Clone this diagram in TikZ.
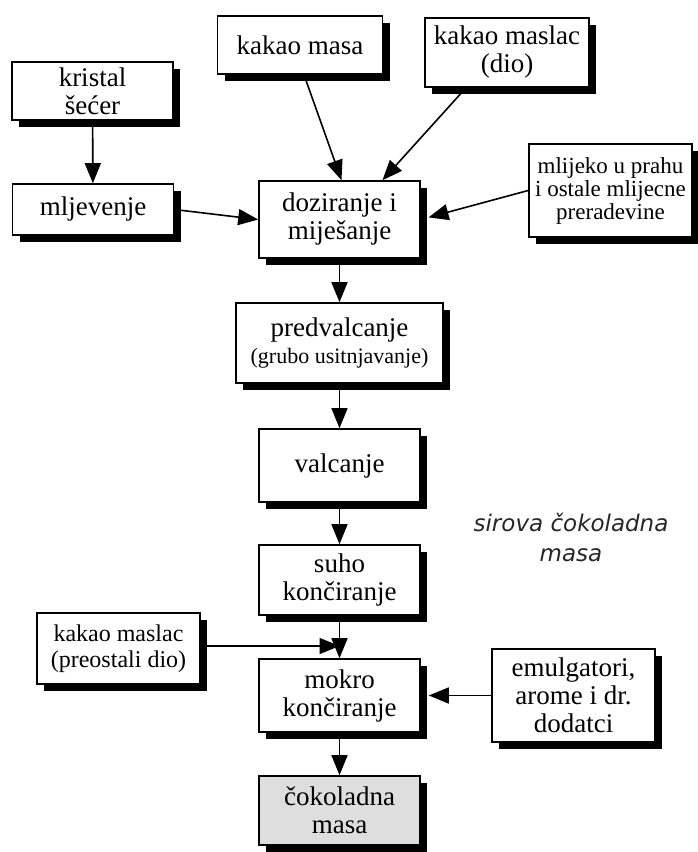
\documentclass[tikz,border=0pt]{standalone}
\usepackage{fontspec}
\setmainfont{Liberation Serif}
\setsansfont{DejaVu Sans}
\usepackage{xcolor}
\usepackage{tikz}
\usetikzlibrary{arrows.meta,shadows}
\tikzset{
  stepbox/.style = {shape=rectangle, draw, line width=1.6pt,
                    fill=white, align=center, inner sep=1pt,
                    minimum width=161pt,
                    font=\fontsize{27}{28}\selectfont,
                    drop shadow={shadow xshift=7pt, shadow yshift=-7pt,
                                 fill=black, opacity=1}},
  smallbox/.style = {stepbox, font=\fontsize{23}{23}\selectfont},
  endbox/.style   = {stepbox, fill=black!13},
  flow/.style     = {draw, line width=1.6pt,
                     -{Triangle[length=20pt, width=16pt]}},
  note/.style     = {align=center, text=black!85,
                     font=\fontsize{23}{30}\selectfont\sffamily\itshape}
}

\begin{document}
\begin{tikzpicture}[x=1pt, y=-1pt]
  \useasboundingbox (0,0) rectangle (697,852);
  \node [stepbox, minimum height=58pt] (kristal) at (92.5,91) {kristal\\šećer};
  \node [stepbox, minimum width=165pt, minimum height=58pt] (kakaomasa) at (300,45) {kakao masa};
  \node [stepbox, minimum width=164pt, minimum height=69pt] (kakaodio) at (507,52.5) {kakao maslac\\(dio)};
  \node [stepbox, minimum height=51pt] (mljevenje) at (93,209.5) {mljevenje};
  \node [stepbox, minimum height=77pt] (doziranje) at (339.5,219.5) {doziranje i\\miješanje};
  \node [smallbox, minimum width=163pt, minimum height=93pt] (mlijeko) at (610.5,190.5)
    {mlijeko u prahu\\i ostale mlijecne\\preradevine};
  \node [stepbox, minimum width=207pt, minimum height=80pt] (predvalcanje) at (339.5,343)
    {predvalcanje\\\fontsize{22}{23}\selectfont(grubo usitnjavanje)};
  \node [stepbox, minimum height=73pt] (valcanje) at (339.5,465.5) {valcanje};
  \node [stepbox, minimum height=70pt] (suho) at (339.5,580) {suho\\končiranje};
  \node [stepbox, minimum width=163pt, minimum height=71pt,
         font=\fontsize{24}{26}\selectfont] (preostali) at (118.5,648.5)
    {kakao maslac\\(preostali dio)};
  \node [stepbox, minimum height=73pt] (mokro) at (339.5,695.5) {mokro\\končiranje};
  \node [stepbox, minimum width=163pt, minimum height=93pt] (emulgatori) at (573.5,695.5)
    {emulgatori,\\arome i dr.\\dodatci};
  \node [endbox, minimum height=69pt] (cokoladna) at (339.5,810.5) {čokoladna\\masa};
  \node [note] (sirova) at (571,537) {sirova čokoladna\\masa};
  \coordinate (join) at (339.5,646);

  \draw [flow] (kristal) -- (mljevenje);
  \draw [flow] (mljevenje.east) -- (doziranje.west);
  \draw [flow] ([xshift=4pt]kakaomasa.south) -- ([xshift=2pt]doziranje.north);
  \draw [flow] ([xshift=-41pt]kakaodio.south) -- ([xshift=43pt]doziranje.north);
  \draw [flow, shorten >=8pt] (mlijeko.west) -- (doziranje.east);
  \draw [flow] (doziranje) -- (predvalcanje);
  \draw [flow] (predvalcanje) -- (valcanje);
  \draw [flow] (valcanje) -- (suho);
  \draw [flow] (suho) -- (mokro);
  \draw [flow] (preostali.east |- join) -- (join);
  \draw [flow, shorten >=8pt] (emulgatori.west) -- (mokro.east);
  \draw [flow] (mokro) -- (cokoladna);
\end{tikzpicture}
\end{document}
